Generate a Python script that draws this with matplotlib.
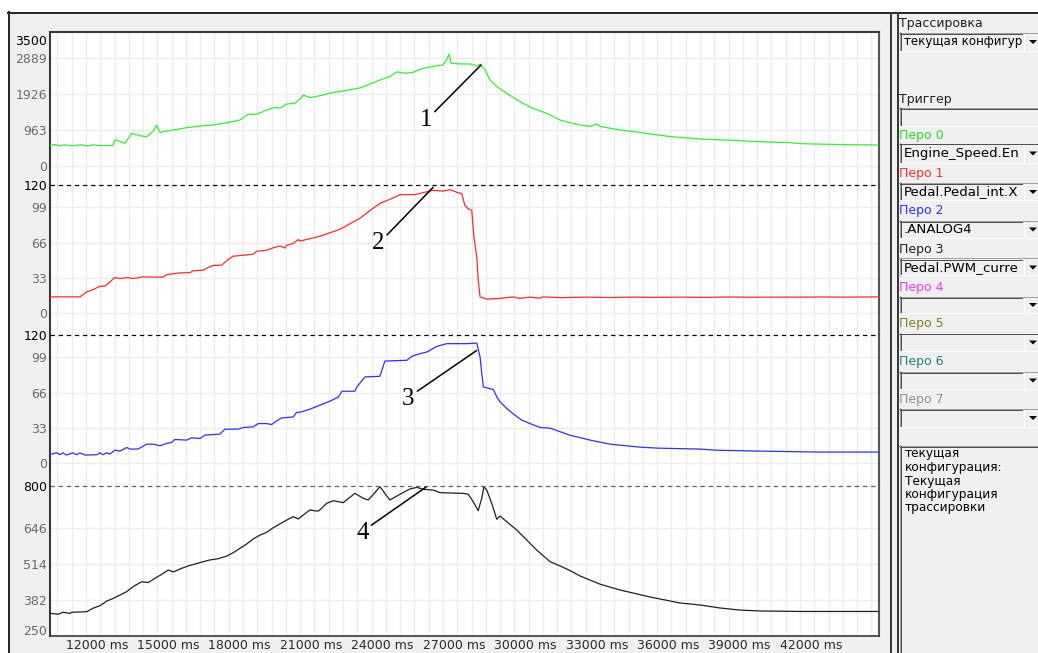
import matplotlib
matplotlib.use("Agg")
import matplotlib.pyplot as plt
import matplotlib.transforms as mtransforms
from matplotlib.patches import Rectangle, Polygon
from matplotlib.lines import Line2D
from matplotlib.ticker import MultipleLocator, FixedLocator

# ---- trace data (time in ms) ----
# Перо 0: Engine_Speed
engine_t = [10490, 10700, 10900, 11100, 11330, 11600, 11750, 12030, 12300, 12590,
            12800, 13010, 13130, 13220, 13430, 13640, 13920, 14270, 14550, 14820,
            14970, 15110, 15660, 16230, 16790, 17340, 17910, 18470, 18810, 19170,
            19590, 19940, 20150, 20430, 20780, 20990, 21130, 21410, 21830, 22250,
            22670, 23090, 23510, 23930, 24350, 24770, 25060, 25400, 25740, 26160,
            26670, 27000, 27160, 27250, 27340, 27710, 28140, 28420, 28560, 28770,
            28980, 29260, 29680, 30240, 30780, 31360, 31920, 32340, 32760, 33180,
            33470, 33600, 34440, 35280, 35700, 36540, 37380, 37800, 38640, 39480,
            39900, 40740, 41580, 42000, 42840, 43680, 44100, 44940, 45280]
engine_v = [545, 575, 540, 565, 545, 548, 570, 535, 565, 545,
            550, 545, 548, 700, 660, 607, 875, 810, 784, 930,
            1089, 901, 963, 1025, 1070, 1097, 1158, 1230, 1383, 1383,
            1498, 1570, 1547, 1658, 1680, 1784, 1900, 1830, 1880, 1950,
            1990, 2040, 2090, 2190, 2300, 2390, 2520, 2480, 2506, 2613,
            2675, 2702, 2850, 2996, 2750, 2730, 2730, 2675, 2729, 2568,
            2300, 2122, 1944, 1721, 1543, 1409, 1230, 1160, 1097, 1060,
            1130, 1060, 963, 900, 856, 790, 745, 722, 700, 680,
            660, 640, 625, 600, 585, 575, 570, 565, 560]

# Перо 1: Pedal.Pedal_int
pedal_t = [10490, 11330, 11750, 12030, 12300, 12590, 12800, 13010, 13220, 13430,
           13710, 13980, 14400, 14820, 15240, 15390, 15950, 16370, 16500, 16920,
           17130, 17340, 17700, 17970, 18180, 18470, 19020, 19170, 19590, 19800,
           20150, 20360, 20430, 20700, 20910, 21000, 21830, 22670, 23510, 23930,
           24350, 24770, 25190, 25820, 26160, 26580, 27000, 27300, 27630, 27790,
           27920, 28050, 28210, 28300, 28420, 28480, 28560, 28840, 29400, 29940,
           30240, 30660, 31080, 31200, 32000, 33000, 34000, 35000, 36000, 37000,
           38000, 39000, 40000, 41000, 42000, 43000, 44000, 45280]
pedal_v = [15.2, 15.2, 15.2, 19.9, 22.0, 25.2, 25.2, 29.3, 33.3, 32.4,
           33.3, 32.4, 34.0, 33.7, 33.8, 36.1, 37.7, 37.9, 39.6, 40.2,
           42.7, 44.6, 44.9, 50.2, 53.3, 53.9, 55.1, 57.9, 58.9, 60.7,
           62.9, 61.0, 63.6, 65.1, 68.9, 67.5, 72.0, 78.5, 88.8, 96.0,
           102.8, 106.5, 111.0, 111.0, 112.8, 115.0, 114.3, 115.6, 112.8, 112.0,
           101.0, 97.8, 96.3, 71.3, 52.6, 30.8, 15.2, 13.1, 13.8, 15.2,
           13.8, 15.0, 14.0, 15.2, 14.5, 15.0, 14.6, 15.0, 14.8, 15.0,
           14.8, 15.1, 14.9, 15.0, 15.0, 15.1, 15.0, 15.2]

# Перо 2: .ANALOG4
analog_t = [10490, 10770, 10910, 11030, 11190, 11450, 11610, 11750, 11960, 12450,
            12590, 12710, 12870, 13010, 13220, 13430, 13710, 13850, 14190, 14550,
            14820, 15110, 15390, 15600, 15740, 16230, 16440, 16790, 17000, 17630,
            17840, 18400, 18610, 19020, 19240, 19590, 19800, 20010, 20220, 20710,
            20850, 20990, 21410, 21830, 22250, 22590, 22760, 23300, 23380, 23720,
            24350, 24560, 25480, 25690, 26030, 26320, 26740, 27160, 27420, 28000,
            28420, 28560, 28630, 28700, 29120, 29260, 29400, 29680, 29940, 30310,
            30730, 31080, 31500, 32340, 33180, 34020, 35280, 36000, 37800, 38500,
            40320, 42840, 45280]
analog_v = [8.1, 9.6, 7.9, 9.6, 7.5, 9.6, 7.8, 9.6, 7.5, 7.8,
            9.6, 7.8, 9.6, 8.5, 12.1, 11.2, 14.6, 13.1, 13.1, 17.7,
            17.7, 16.2, 18.4, 19.3, 22.1, 21.5, 23.7, 23.0, 26.2, 27.1,
            31.8, 31.8, 33.3, 33.9, 37.0, 37.0, 36.1, 39.5, 42.3, 43.2,
            47.6, 47.6, 50.5, 54.2, 58.0, 61.7, 67.3, 67.3, 71.3, 80.7,
            81.3, 95.6, 96.3, 100.0, 102.5, 104.0, 109.3, 111.9, 111.9, 111.9,
            112.4, 99.3, 83.8, 71.3, 68.9, 62.0, 57.3, 51.1, 46.4, 40.2,
            36.4, 33.3, 32.7, 26.1, 21.5, 17.7, 14.9, 14.0, 13.1, 12.0,
            11.2, 10.3, 10.3]

# Перо 3: Pedal.PWM_current
pwm_t = [10490, 10840, 11030, 11330, 11400, 12030, 12290, 12590, 12870, 13150,
         13430, 13710, 13980, 14340, 14620, 14900, 15180, 15460, 15670, 16020,
         16300, 16580, 16930, 17210, 17560, 17910, 18190, 18470, 18750, 19030,
         19310, 19590, 19870, 20150, 20430, 20710, 20920, 21130, 21410, 21620,
         21760, 21900, 22110, 22390, 22810, 23300, 23650, 23860, 24140, 24350,
         24560, 24770, 25190, 25610, 25900, 26170, 26590, 26880, 27430, 27850,
         28060, 28270, 28480, 28630, 28720, 28840, 29050, 29260, 29400, 29680,
         30100, 30520, 30940, 31500, 31920, 32340, 32760, 33180, 33600, 34440,
         35700, 36960, 37800, 38640, 39480, 40320, 42000, 44100, 45280]
pwm_v = [333, 330, 337, 333, 337, 339, 351.5, 361, 378, 388,
         400, 412.5, 431, 449, 446, 461.5, 476, 492, 485, 498,
         507, 514, 522.5, 529, 533.5, 543, 555.5, 571.5, 587, 606,
         620, 630, 647, 661, 675, 687.5, 679, 693.7, 712, 709,
         708, 718, 736.5, 746, 739, 773, 755, 748.7, 775.5, 797.5,
         773, 748.7, 769.5, 789, 795, 788, 785, 775.5, 774, 773,
         770, 742.5, 709.5, 755, 797.5, 785, 736.5, 678, 690, 669,
         638.7, 602, 565, 522.5, 507, 490, 470, 455, 440, 418.7,
         393, 371, 363.7, 352.7, 345, 341.7, 340, 340, 340]

series = [(engine_t, engine_v, '#33ee33'),
          (pedal_t, pedal_v, '#ff2a2a'),
          (analog_t, analog_v, '#2f2fff'),
          (pwm_t, pwm_v, '#202020')]

band_ticks = [[0, 963, 1926, 2889, 3500],
              [0, 33, 66, 99, 120],
              [0, 33, 66, 99, 120],
              [250, 382, 514, 646, 800]]
band_limits = [(-508, 3585), (-20.5, 120), (-21.5, 120), (250, 800)]
band_px = [(32, 185), (185, 335), (335, 486), (486, 636)]
top_dash = [None, '#000000', '#000000', '#606060']
x_ticks = list(range(12000, 42001, 3000))
x_limits = (10490, 45320)

# annotation: label, band, peak (t, value), text (t, value)
notes = [('1', 0, (28598, 2702), (26275, 1230)),
         ('2', 1, (26581, 117.7), (24270, 65.4)),
         ('3', 2, (28416, 105.5), (25543, 60.4)),
         ('4', 3, (26287, 796), (23610, 628.8))]

pens = ['Перо 0', 'Перо 1', 'Перо 2', 'Перо 3', 'Перо 4', 'Перо 5', 'Перо 6', 'Перо 7']
pen_colors = ['#22e022', '#ff3030', '#3030ff', '#202020', '#ff33ff', '#808020', '#208080', '#909090']
pen_signals = ['Engine_Speed.En', 'Pedal.Pedal_int.X', '.ANALOG4', 'Pedal.PWM_curre', '', '', '', '']
info_lines = ['текущая', 'конфигурация:', 'Текущая', 'конфигурация', 'трассировки']

W, H = 1038, 653
fig = plt.figure(figsize=(W / 100, H / 100), dpi=100)
fig.patch.set_facecolor('white')
PX = 0.72  # one pixel in points


def fx(x):
    return x / W


def fy(y):
    return 1 - y / H


def hline(x0, x1, y, color, lw, z):
    fig.add_artist(Line2D([fx(x0), fx(x1)], [fy(y), fy(y)], color=color, lw=lw, zorder=z,
                          transform=fig.transFigure))


def vline(x, y0, y1, color, lw, z):
    fig.add_artist(Line2D([fx(x), fx(x)], [fy(y0), fy(y1)], color=color, lw=lw, zorder=z,
                          transform=fig.transFigure))


# window background and frame
fig.add_artist(Rectangle((fx(8), 0), 1 - fx(8), fy(12), transform=fig.transFigure,
                         facecolor='#f0f0f0', edgecolor='none', zorder=-5))
hline(8, 1038, 12.5, '#2a2a2a', 2 * PX, -4)
vline(8.5, 12, 653, '#2a2a2a', 2 * PX, -4)
vline(891, 13, 653, '#3a3a3a', 2 * PX, -4)
vline(898, 13, 653, '#3a3a3a', 2 * PX, -4)

# ---- the four stacked trace bands ----
axes = []
for i, (top, bot) in enumerate(band_px):
    ax = fig.add_axes([fx(50), fy(bot), fx(879) - fx(50), (bot - top) / H],
                      sharex=axes[0] if axes else None)
    axes.append(ax)
    t, v, c = series[i]
    ax.plot(t, v, color=c, lw=0.9, zorder=3)
    ax.set_ylim(*band_limits[i])
    ax.set_xlim(*x_limits)
    ax.set_facecolor('white')
    ax.yaxis.set_major_locator(FixedLocator(band_ticks[i]))
    ax.set_yticklabels([str(k) for k in band_ticks[i]])
    for val in band_ticks[i][:-1]:
        ax.axhline(val, color='#ececec', lw=1.0, zorder=1)
    if top_dash[i]:
        ax.axhline(band_ticks[i][-1], color=top_dash[i], lw=0.9, ls=(0, (3.5, 3)),
                   zorder=4, clip_on=False)
    ax.xaxis.set_minor_locator(MultipleLocator(600))
    ax.grid(axis='x', which='both', color='#ececec', lw=1.0, zorder=0)
    ax.set_axisbelow(True)
    ax.tick_params(axis='both', which='both', length=0, labelsize=9, pad=2,
                   labelcolor='#6a6a6a')
    for side in ['top', 'bottom']:
        ax.spines[side].set_visible(False)
    ax.spines['left'].set_color('#3a3a3a')
    ax.spines['left'].set_linewidth(1.5)
    ax.spines['right'].set_color('#555555')
    ax.spines['right'].set_linewidth(1.5)
    labels = ax.get_yticklabels()
    labels[-1].set_color('black')
    if i < 3:
        ax.tick_params(axis='x', labelbottom=False)

axes[0].spines['top'].set_visible(True)
axes[0].spines['top'].set_color('#3a3a3a')
axes[0].spines['top'].set_linewidth(1.5)
axes[3].spines['bottom'].set_visible(True)
axes[3].spines['bottom'].set_color('#3a3a3a')
axes[3].spines['bottom'].set_linewidth(1.2)

axes[3].set_xticks(x_ticks)
axes[3].set_xticklabels([f'{k} ms' for k in x_ticks])
shift = mtransforms.ScaledTranslation(11 / 100, 0, fig.dpi_scale_trans)
for lab in axes[3].get_xticklabels():
    lab.set_transform(lab.get_transform() + shift)
    lab.set_color('#2a2a2a')

# top / bottom labels are pushed inside the plot box
lab = axes[0].get_yticklabels()[-1]
lab.set_transform(lab.get_transform() + mtransforms.ScaledTranslation(0, -5 / 100, fig.dpi_scale_trans))
lab = axes[3].get_yticklabels()[0]
lab.set_transform(lab.get_transform() + mtransforms.ScaledTranslation(0, 6 / 100, fig.dpi_scale_trans))

for label, band, peak, txt in notes:
    axes[band].annotate(label, xy=peak, xytext=txt, ha='center', va='center',
                        fontsize=18, family='Liberation Serif', color='black',
                        annotation_clip=False, zorder=6,
                        arrowprops=dict(arrowstyle='-', color='black', lw=1.1,
                                        shrinkA=0, shrinkB=0, relpos=(1.0, 0.75)))


# ---- right-hand settings panel ----
def sunken(y0, y1, button=True, z=2):
    x0, x1 = 899, 1040
    fig.add_artist(Rectangle((fx(x0), fy(y1)), fx(x1) - fx(x0), (y1 - y0) / H,
                             transform=fig.transFigure, facecolor='#f0f0f0',
                             edgecolor='none', zorder=z))
    hline(x0, x1, y0 + 0.5, '#a0a0a0', PX, z + 0.1)
    vline(x0 + 0.5, y0, y1, '#a0a0a0', PX, z + 0.1)
    hline(x0 + 1, x1, y0 + 1.5, '#505050', PX, z + 0.1)
    vline(x0 + 1.5, y0 + 1, y1 - 1, '#505050', PX, z + 0.1)
    hline(x0, x1, y1 - 0.5, '#ffffff', PX, z + 0.1)
    if button:
        bx = 1023
        fig.add_artist(Rectangle((fx(bx), fy(y1 - 1)), fx(1038) - fx(bx), (y1 - y0 - 3) / H,
                                 transform=fig.transFigure, facecolor='#f0f0f0',
                                 edgecolor='none', zorder=z + 0.2))
        vline(bx + 0.5, y0 + 2, y1 - 1, '#ffffff', PX, z + 0.3)
        yc = (y0 + y1) / 2
        fig.add_artist(Polygon([(fx(1029), fy(yc - 1.5)), (fx(1037), fy(yc - 1.5)),
                                (fx(1033), fy(yc + 2.5))], closed=True,
                               transform=fig.transFigure, facecolor='black',
                               edgecolor='none', zorder=z + 0.4))


panel_font = dict(family='DejaVu Sans', va='center', ha='left')
fig.text(fx(899), fy(23), 'Трассировка', color='#202020', fontsize=9, zorder=5, **panel_font)
sunken(32, 51)
fig.text(fx(904), fy(42), 'текущая конфигур', color='black', fontsize=8.5, zorder=2.1,
         **panel_font)
fig.text(fx(899), fy(99), 'Триггер', color='#202020', fontsize=9, zorder=5, **panel_font)
sunken(107, 126, button=False)

pen_label_y = [136, 174, 211, 249, 287, 324, 362, 399]
pen_box_y = [(143, 163), (182, 201), (220, 238), (258, 276),
             (296, 313), (333, 351), (371, 389), (408, 427)]
for k in range(len(pens)):
    fig.text(fx(899), fy(pen_label_y[k]), pens[k], color=pen_colors[k], fontsize=9,
             zorder=5, **panel_font)
    b0, b1 = pen_box_y[k]
    sunken(b0, b1)
    if pen_signals[k]:
        fig.text(fx(904), fy((b0 + b1) / 2 + 0.5), pen_signals[k], color='black',
                 fontsize=9.6, zorder=2.15, **panel_font)

sunken(445, 660, button=False)
for k, line in enumerate(info_lines):
    fig.text(fx(905), fy(454 + k * 13.5), line, color='black', fontsize=8.7, zorder=5,
             **panel_font)

fig.savefig('out.png', dpi=100)
